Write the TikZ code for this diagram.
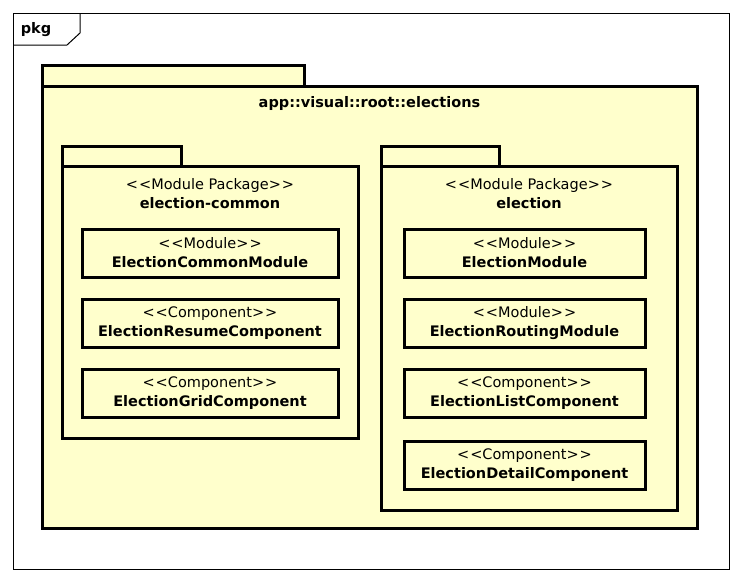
\documentclass[tikz,border=0pt]{standalone}
\usepackage{fontspec}
\setmainfont{DejaVu Sans}
\definecolor{umlfill}{HTML}{FFFFCC}
\newcommand{\lt}{<\kern1pt<\kern0pt}
\newcommand{\gt}{\kern0pt>\kern1pt>}
\begin{document}
\begin{tikzpicture}[x=1pt,y=-1pt,
  pkgline/.style={draw=black,line width=3pt,fill=umlfill},
  elem/.style={draw=black,line width=3pt,fill=umlfill,minimum height=48pt,inner sep=0pt,align=center,font=\fontsize{14.5}{19}\selectfont},
  stereo/.style={font=\fontsize{14.5}{17}\selectfont,inner sep=0pt},
  pname/.style={font=\fontsize{14.5}{17}\selectfont\bfseries,inner sep=0pt}]
\useasboundingbox[fill=white] (0,0) rectangle (741,582);
% frame
\draw[line width=1pt] (13,13) rectangle (729,569);
\draw[line width=1pt] (13,45) -- (67,45) -- (80,33) -- (80,13);
\node[pname] (pkg) at (36,30) {pkg};
% outer package
\draw[pkgline] (42,65) rectangle (304,86);
\draw[pkgline] (42,86) rectangle (697,528);
\node[pname] (outertitle) at (369.5,103) {app::visual::root::elections};
% left package
\draw[pkgline] (62,146) rectangle (181,166);
\draw[pkgline] (62,166) rectangle (358,438);
\node[stereo] (lst) at (210,185) {\lt Module Package\gt};
\node[pname] (lname) at (210,203) {election-common};
% right package
\draw[pkgline] (381,146) rectangle (499,166);
\draw[pkgline] (381,166) rectangle (677,510);
\node[stereo] (rst) at (529,185) {\lt Module Package\gt};
\node[pname] (rname) at (529,203) {election};
% left elements
\node[elem,minimum width=256pt] (ecm) at (210,253) {\lt Module\gt\\\textbf{ElectionCommonModule}};
\node[elem,minimum width=256pt] (erc) at (210,323) {\lt Component\gt\\\textbf{ElectionResumeComponent}};
\node[elem,minimum width=256pt] (egc) at (210,393.5) {\lt Component\gt\\\textbf{ElectionGridComponent}};
% right elements
\node[elem,minimum width=241pt] (em) at (524.5,253) {\lt Module\gt\\\textbf{ElectionModule}};
\node[elem,minimum width=241pt] (erm) at (524.5,323) {\lt Module\gt\\\textbf{ElectionRoutingModule}};
\node[elem,minimum width=241pt] (elc) at (524.5,393.5) {\lt Component\gt\\\textbf{ElectionListComponent}};
\node[elem,minimum width=241pt] (edc) at (524.5,465) {\lt Component\gt\\\textbf{ElectionDetailComponent}};
\end{tikzpicture}
\end{document}
